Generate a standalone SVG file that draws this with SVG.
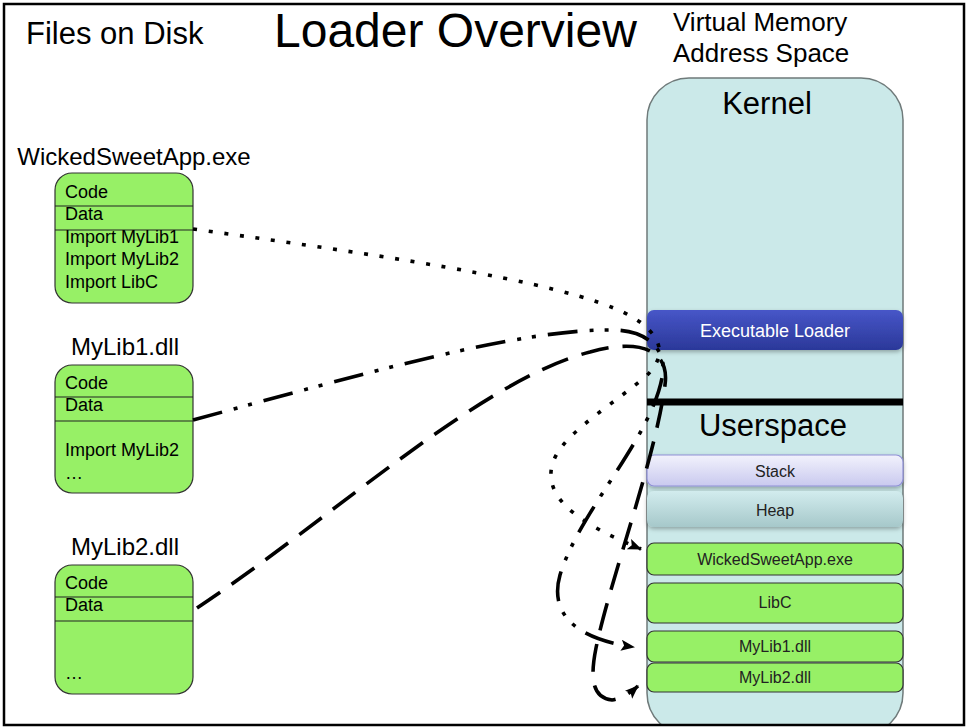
<svg xmlns="http://www.w3.org/2000/svg" width="969" height="727" viewBox="0 0 969 727">
  <defs>
    <style>
      text { font-family: "Liberation Sans", Arial, Helvetica, sans-serif; fill: #000; }
      .title { font-size: 31px; }
      .big { font-size: 48px; }
      .vm { font-size: 26px; }
      .fname { font-size: 24px; text-anchor: middle; }
      .sec { font-size: 18px; }
      .file { fill: #97f066; stroke: #333; stroke-width: 1.2; }
      .sep { stroke: #222; stroke-width: 1.2; }
      .bar { fill: #97f066; stroke: #333; stroke-width: 1.2; }
      .barlabel { font-size: 16px; text-anchor: middle; fill: #222; }
      .region { font-size: 31px; text-anchor: middle; }
      .conn { fill: none; stroke: #000; stroke-width: 3.6; stroke-linecap: butt; }
      .dotted { stroke-dasharray: 4 11.7; }
      .dashdot { stroke-dasharray: 30 12 4 11 4 12; }
      .dashed { stroke-dasharray: 28 14; }
    </style>
    <linearGradient id="gLoader" x1="0" y1="0" x2="0" y2="1">
      <stop offset="0" stop-color="#4756c8"/>
      <stop offset="1" stop-color="#2b3899"/>
    </linearGradient>
    <linearGradient id="gStack" x1="0" y1="0" x2="0" y2="1">
      <stop offset="0" stop-color="#f2f2fc"/>
      <stop offset="1" stop-color="#c9c9ef"/>
    </linearGradient>
    <linearGradient id="gHeap" x1="0" y1="0" x2="0" y2="1">
      <stop offset="0" stop-color="#d2ecee"/>
      <stop offset="1" stop-color="#a6c8ca"/>
    </linearGradient>
    <filter id="shadow" x="-5%" y="-30%" width="110%" height="170%">
      <feDropShadow dx="0" dy="2" stdDeviation="2" flood-color="#000" flood-opacity="0.3"/>
    </filter>
    <clipPath id="frameClip">
      <rect x="0" y="0" width="969" height="724"/>
    </clipPath>
    <marker id="arrow" markerUnits="userSpaceOnUse" markerWidth="14" markerHeight="12" refX="13" refY="5.5" orient="auto">
      <path d="M0,0 L14,5.5 L0,11 L3,5.5 z" fill="#000"/>
    </marker>
  </defs>

  <rect x="0" y="0" width="969" height="727" fill="#fff"/>

  <!-- headings -->
  <text class="title" x="26" y="44">Files on Disk</text>
  <text class="big" x="274" y="47">Loader Overview</text>
  <text class="vm" x="673" y="31">Virtual Memory</text>
  <text class="vm" x="673" y="62">Address Space</text>

  <!-- files on disk -->
  <g id="file-wickedsweetapp">
    <text class="fname" x="134" y="165">WickedSweetApp.exe</text>
    <rect class="file" x="55" y="173" width="138" height="130" rx="17"/>
    <line class="sep" x1="55" y1="206" x2="193" y2="206"/>
    <line class="sep" x1="55" y1="230" x2="193" y2="230"/>
    <text class="sec" x="65" y="198">Code</text>
    <text class="sec" x="65" y="220">Data</text>
    <text class="sec" x="65" y="243">Import MyLib1</text>
    <text class="sec" x="65" y="265">Import MyLib2</text>
    <text class="sec" x="65" y="288">Import LibC</text>
  </g>

  <g id="file-mylib1">
    <text class="fname" x="125" y="355">MyLib1.dll</text>
    <rect class="file" x="55" y="365" width="138" height="128" rx="17"/>
    <line class="sep" x1="55" y1="397" x2="193" y2="397"/>
    <line class="sep" x1="55" y1="421" x2="193" y2="421"/>
    <text class="sec" x="65" y="389">Code</text>
    <text class="sec" x="65" y="411">Data</text>
    <text class="sec" x="65" y="456">Import MyLib2</text>
    <text class="sec" x="65" y="479">…</text>
  </g>

  <g id="file-mylib2">
    <text class="fname" x="125" y="555">MyLib2.dll</text>
    <rect class="file" x="55" y="565" width="138" height="129" rx="17"/>
    <line class="sep" x1="55" y1="597" x2="193" y2="597"/>
    <line class="sep" x1="55" y1="621" x2="193" y2="621"/>
    <text class="sec" x="65" y="589">Code</text>
    <text class="sec" x="65" y="611">Data</text>
    <text class="sec" x="65" y="679">…</text>
  </g>

  <!-- virtual address space -->
  <g id="address-space" clip-path="url(#frameClip)">
    <rect x="647" y="78" width="256" height="657" rx="42" fill="#cbe9e9" stroke="#6f7a7a" stroke-width="1.5"/>
    <text class="region" x="767" y="114">Kernel</text>
  </g>

  <g id="loader">
    <rect x="647" y="310" width="256" height="40" rx="7" fill="url(#gLoader)" filter="url(#shadow)"/>
    <text x="775" y="337" font-size="18" text-anchor="middle" style="fill:#fff">Executable Loader</text>
  </g>

  <g id="boundary">
    <line x1="647" y1="402" x2="903" y2="402" stroke="#000" stroke-width="7"/>
    <text class="region" x="773" y="436">Userspace</text>
  </g>

  <g id="stack">
    <rect x="647" y="455" width="256" height="31" rx="7" fill="url(#gStack)" stroke="#8f8fd6" stroke-width="1.2" filter="url(#shadow)"/>
    <text class="barlabel" x="775" y="477">Stack</text>
  </g>

  <g id="heap">
    <rect x="647" y="491" width="256" height="36" rx="7" fill="url(#gHeap)" filter="url(#shadow)"/>
    <text class="barlabel" x="775" y="516">Heap</text>
  </g>

  <g id="mem-wickedsweetapp">
    <rect class="bar" x="647" y="543" width="256" height="32" rx="7"/>
    <text class="barlabel" x="775" y="565">WickedSweetApp.exe</text>
  </g>

  <g id="mem-libc">
    <rect class="bar" x="647" y="583" width="256" height="40" rx="7"/>
    <text class="barlabel" x="775" y="608">LibC</text>
  </g>

  <g id="mem-mylib1">
    <rect class="bar" x="647" y="631" width="256" height="31" rx="7"/>
    <text class="barlabel" x="775" y="652">MyLib1.dll</text>
  </g>

  <g id="mem-mylib2">
    <rect class="bar" x="647" y="663" width="256" height="29" rx="7"/>
    <text class="barlabel" x="775" y="683">MyLib2.dll</text>
  </g>

  <!-- loading paths: file on disk -> loader -> mapped image -->
  <g id="connectors">
    <path class="conn dotted" marker-end="url(#arrow)"
          d="M193,229 C400,258 590,285 640,322 C668,343 662,362 644,378 C600,414 553,440 551,472 C549,505 590,528 641,549"/>
    <path class="conn dashdot" marker-end="url(#arrow)"
          d="M193,420 C360,375 520,328 615,330 C650,331 668,352 662,378 C650,440 580,510 560,575 C550,610 570,638 634,647"/>
    <path class="conn dashed" marker-end="url(#arrow)"
          d="M197,608 C330,520 480,380 590,352 C640,338 670,350 665,385 C655,460 610,580 596,648 C590,678 592,698 612,700 Q625,698 638,686"/>
  </g>

  <!-- slide frame -->
  <rect x="4" y="4" width="960" height="721" fill="none" stroke="#000" stroke-width="2.5"/>
</svg>
